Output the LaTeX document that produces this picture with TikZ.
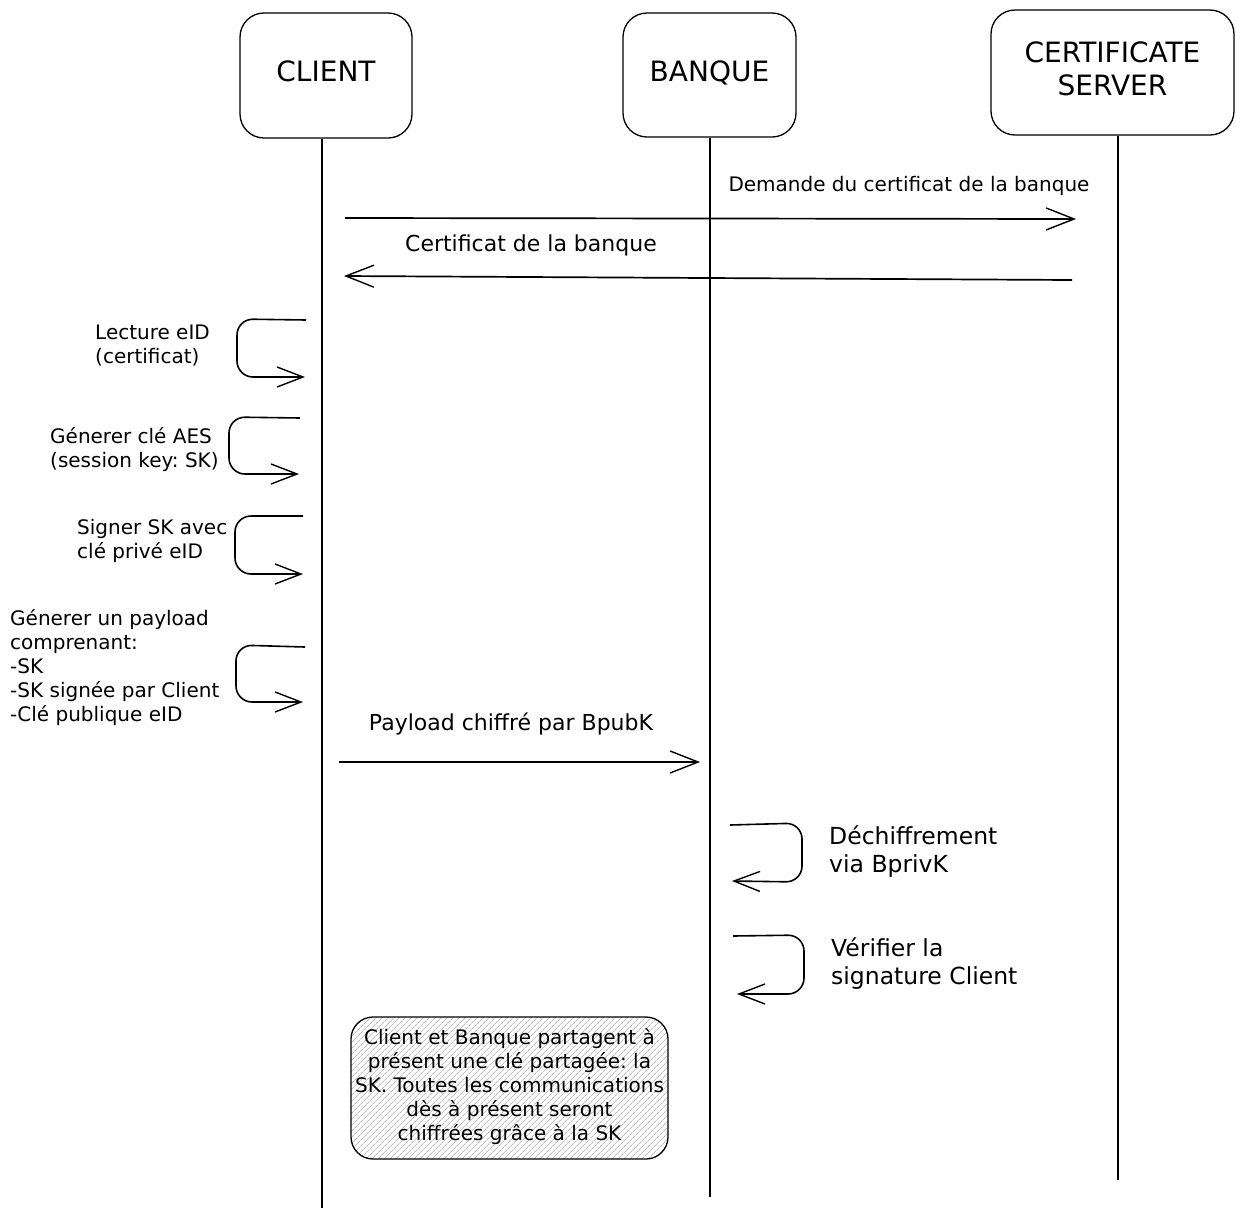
\documentclass[tikz,border=0pt]{standalone}
\usepackage{fontspec}
\setmainfont{DejaVu Sans}
\frenchspacing
\usetikzlibrary{arrows.meta,patterns.meta}
\begin{document}
\begin{tikzpicture}[x=1pt,y=-1pt,
  actor/.style={draw, line width=1.3pt, rounded corners=24pt, font=\fontsize{28}{33}\selectfont, align=center, inner sep=0pt},
  life/.style={line width=1.2pt},
  msg/.style={line width=1.7pt, -{Straight Barb[length=28pt,width=22pt,line width=1.4pt]}},
  selfmsg/.style={line width=1.6pt, rounded corners=16pt, -{Straight Barb[length=26pt,width=20pt,line width=1.4pt]}},
  smalltxt/.style={font=\fontsize{20}{24}\selectfont, align=left, inner sep=0pt},
  midtxt/.style={font=\fontsize{22}{26}\selectfont, align=center, inner sep=0pt},
  bigtxt/.style={font=\fontsize{23.5}{28}\selectfont, align=left, inner sep=0pt},
  notebox/.style={draw, line width=1.3pt, rounded corners=22pt, minimum width=317pt, minimum height=142pt, inner sep=0pt, align=center, font=\fontsize{20}{24}\selectfont, pattern={Lines[angle=45,distance=4pt,line width=0.6pt]}, pattern color=gray!85}
]
\useasboundingbox (0,0) rectangle (1245,1219);

% actors
\node[actor, minimum width=172pt, minimum height=125pt] (client) at (326,75.5) {\raisebox{8pt}{CLIENT}};
\node[actor, minimum width=173pt, minimum height=124pt] (banque) at (709.5,75) {\raisebox{8pt}{BANQUE}};
\node[actor, minimum width=243pt, minimum height=125pt] (cert) at (1112.5,72.5) {\raisebox{7pt}{\begin{tabular}{@{}c@{}}CERTIFICATE\\SERVER\end{tabular}}};

% lifelines
\coordinate (clend) at (322,1208);
\coordinate (baend) at (710,1197);
\coordinate (ceend) at (1118,1180);
\draw[life] (client.south -| clend) -- (clend);
\draw[life] (banque.south -| baend) -- (baend);
\draw[life] (cert.south -| ceend) -- (ceend);

% messages
\coordinate (m1s) at (345,218); \coordinate (m1e) at (1076,219);
\draw[msg] (m1s) -- (m1e);
\node[smalltxt, anchor=center] (m1l) at (909,186) {Demande du certificat de la banque};

\coordinate (m2s) at (1072,280); \coordinate (m2e) at (344,276);
\draw[msg] (m2s) -- (m2e);
\node[midtxt] (m2l) at (531,245) {Certificat de la banque};

\coordinate (m3s) at (339,762); \coordinate (m3e) at (700,762);
\draw[msg] (m3s) -- (m3e);
\node[midtxt] (m3l) at (511,724) {Payload chiffré par BpubK};

% client self messages
\coordinate (s1a) at (306,320); \coordinate (s1b) at (305,377);
\draw[selfmsg] (s1a) -- (237,319) -- (237,377) -- (s1b);
\node[smalltxt, anchor=west] (s1l) at (95,346) {Lecture eID\\(certificat)};

\coordinate (s2a) at (300,418); \coordinate (s2b) at (299,474);
\draw[selfmsg] (s2a) -- (229,417) -- (229,474) -- (s2b);
\node[smalltxt, anchor=west] (s2l) at (50,449.5) {Génerer clé AES\\(session key: SK)};

\coordinate (s3a) at (303,516); \coordinate (s3b) at (303,574);
\draw[selfmsg] (s3a) -- (235,516) -- (235,574) -- (s3b);
\node[smalltxt, anchor=west] (s3l) at (77,541) {Signer SK avec\\clé privé eID};

\coordinate (s4a) at (305,647); \coordinate (s4b) at (303,702);
\draw[selfmsg] (s4a) -- (236,645) -- (236,702) -- (s4b);
\node[smalltxt, anchor=west] (s4l) at (10,668) {Génerer un payload\\comprenant:\\-SK\\-SK signée par Client\\-Clé publique eID};

% banque self messages
\coordinate (b1a) at (730,825); \coordinate (b1b) at (732,881);
\draw[selfmsg] (b1a) -- (802,823) -- (802,882) -- (b1b);
\node[bigtxt, anchor=west] (b1l) at (829,852) {Déchiffrement\\via BprivK};

\coordinate (b2a) at (733,936); \coordinate (b2b) at (737,994);
\draw[selfmsg] (b2a) -- (804,935) -- (804,994) -- (b2b);
\node[bigtxt, anchor=west] (b2l) at (831,964) {Vérifier la\\signature Client};

% note
\node[notebox] (note) at (509.5,1088) {\raisebox{3pt}{\begin{tabular}{@{}c@{}}Client et Banque partagent à\\présent une clé partagée: la\\SK. Toutes les communications\\dès à présent seront\\chiffrées grâce à la SK\end{tabular}}};
\end{tikzpicture}
\end{document}
